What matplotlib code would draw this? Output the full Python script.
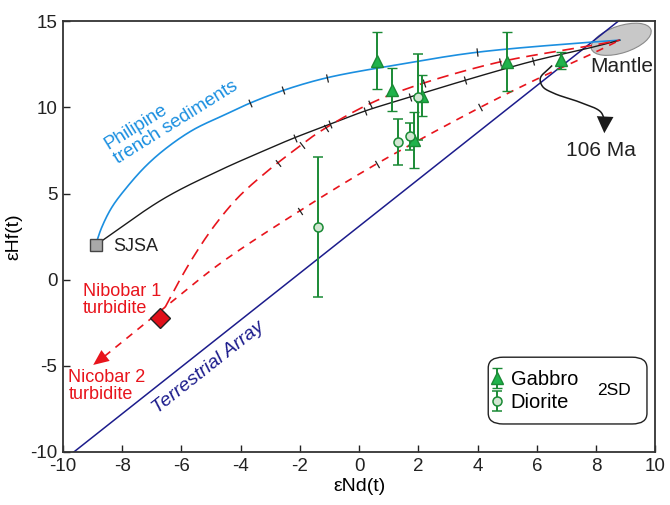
import numpy as np
import matplotlib
matplotlib.use("Agg")
import matplotlib.pyplot as plt
from matplotlib.patches import Ellipse, FancyBboxPatch
from matplotlib import transforms

plt.rcParams['font.family'] = ['Liberation Sans', 'DejaVu Sans']
plt.rcParams['axes.unicode_minus'] = False

# ---- data ----
# mixing curves (eNd, eHf) from end-member to mantle
blue_x = [-8.9, -8.7, -8.35, -7.85, -7.2, -6.5, -5.6, -4.5, -3.68, -2.57, -1.08, 1.39, 3.99, 7.8, 8.8]
blue_y = [2.0, 3.0, 4.2, 5.35, 6.6, 7.65, 8.7, 9.6, 10.25, 10.98, 11.72, 12.5, 13.2, 13.78, 13.9]
black_x = [-8.9, -6.6, -4.7, -3.34, -2.16, -0.98, 0.2, 1.72, 3.58, 5.88, 7.9, 8.8]
black_y = [2.0, 4.7, 6.35, 7.39, 8.25, 9.02, 9.79, 10.6, 11.57, 12.69, 13.5, 13.9]
red1_x = [-6.55, -6.1, -5.55, -4.9, -4.1, -3.2, -2.2, -1.32, 0.37, 1.95, 4.76, 7.9, 8.8]
red1_y = [-1.6, -0.15, 1.45, 3.1, 4.75, 6.15, 7.5, 8.6, 10.22, 11.28, 12.64, 13.6, 13.9]
red2_x = [-8.6, -6.55, -4.7, -2.0, 0.6, 4.09, 6.1, 7.85, 8.8]
red2_y = [-4.45, -1.6, 0.93, 4.0, 6.73, 10.0, 11.72, 13.1, 13.9]

# tick marks on the curves (eNd positions)
blue_ticks = [-3.68, -2.57, -1.08, 3.97]
black_ticks = [-2.16, -0.98, 0.2, 1.72, 3.58, 5.88]
red1_ticks = [-2.73, -1.94, -1.1, 0.37, 2.17, 4.76]
red2_ticks = [-1.99, 0.6, 4.09]

# samples with 2SD error bars
gabbro_x = [0.6, 1.1, 1.86, 2.14, 5.01, 6.81]
gabbro_y = [12.7, 11.03, 8.1, 10.67, 12.65, 12.74]
gabbro_err = [1.65, 1.23, 1.63, 1.2, 1.7, 0.5]
diorite_x = [-1.4, 1.31, 1.71, 2.0]
diorite_y = [3.05, 8.01, 8.32, 10.62]
diorite_err = [4.05, 1.33, 0.8, 2.5]

sjsa = (-8.9, 2.0)
nicobar1 = (-6.72, -2.2)
nicobar2_tip = (-8.98, -4.95)
mantle = (8.85, 13.95)

# terrestrial array eHf = 1.36 eNd + 3.1
ta_slope, ta_icpt = 1.36, 3.1

# 106 Ma evolution arrow
age_x = [6.5, 6.12, 6.2, 6.6, 7.45, 8.15, 8.3]
age_y = [12.4, 11.7, 11.2, 10.8, 10.3, 9.75, 9.2]
age_tip = (8.28, 8.5)

RED = '#e8141c'
BLUE = '#1b8fe0'
NAVY = '#1c1c8c'
GREEN = '#1a8a35'

PX_X, PX_Y = 29.6, 17.22   # rough pixels per unit, only to keep the spline even


def smooth(xs, ys, n=30):
    # centripetal Catmull-Rom through the read points, for drawing only
    P = np.column_stack([np.asarray(xs) * PX_X, np.asarray(ys) * PX_Y])
    P = np.vstack([2 * P[0] - P[1], P, 2 * P[-1] - P[-2]])
    out = []
    for i in range(1, len(P) - 2):
        p0, p1, p2, p3 = P[i - 1], P[i], P[i + 1], P[i + 2]
        t0 = 0.0
        t1 = t0 + np.linalg.norm(p1 - p0) ** 0.5
        t2 = t1 + np.linalg.norm(p2 - p1) ** 0.5
        t3 = t2 + np.linalg.norm(p3 - p2) ** 0.5
        t = np.linspace(t1, t2, n, endpoint=False)[:, None]
        a1 = (t1 - t) / (t1 - t0) * p0 + (t - t0) / (t1 - t0) * p1
        a2 = (t2 - t) / (t2 - t1) * p1 + (t - t1) / (t2 - t1) * p2
        a3 = (t3 - t) / (t3 - t2) * p2 + (t - t2) / (t3 - t2) * p3
        b1 = (t2 - t) / (t2 - t0) * a1 + (t - t0) / (t2 - t0) * a2
        b2 = (t3 - t) / (t3 - t1) * a2 + (t - t1) / (t3 - t1) * a3
        out.append((t2 - t) / (t2 - t1) * b1 + (t - t1) / (t2 - t1) * b2)
    out.append(P[-2][None, :])
    c = np.vstack(out)
    return c[:, 0] / PX_X, c[:, 1] / PX_Y


fig = plt.figure(figsize=(6.7, 5.05), dpi=100)
ax = fig.add_axes([0.094, 0.105, 0.884, 0.853])
ax.set_xlim(-10, 10)
ax.set_ylim(-10, 15)


def add_ticks(cx, cy, tick_x):
    pts = ax.transData.transform(np.column_stack([cx, cy]))
    for tx in tick_x:
        i = int(np.argmin(np.abs(cx - tx)))
        j0, j1 = max(i - 2, 0), min(i + 2, len(cx) - 1)
        d = pts[j1] - pts[j0]
        ang = np.degrees(np.arctan2(d[1], d[0]))
        ax.plot(cx[i], cy[i], marker=(2, 0, ang), ms=6, mec='#222222', mew=0.9,
                ls='none', zorder=4)


# terrestrial array
ta_x = np.array([-10, 10])
ax.plot(ta_x, ta_slope * ta_x + ta_icpt, color=NAVY, lw=1.1, zorder=2)

# mantle field
ell = Ellipse((0, 0), 0.625, 0.27, angle=18, facecolor='#c8c8c8', edgecolor='#8a8a8a',
              lw=0.8, zorder=1,
              transform=fig.dpi_scale_trans + transforms.ScaledTranslation(mantle[0], mantle[1], ax.transData))
ax.add_patch(ell)

bx, by = smooth(blue_x, blue_y)
ax.plot(bx, by, color=BLUE, lw=1.2, zorder=3)
add_ticks(bx, by, blue_ticks)

kx, ky = smooth(black_x, black_y)
ax.plot(kx, ky, color='#1a1a1a', lw=1.0, zorder=3)
add_ticks(kx, ky, black_ticks)

r1x, r1y = smooth(red1_x, red1_y)
ax.plot(r1x, r1y, color=RED, lw=1.2, dashes=(7, 4), zorder=3)
add_ticks(r1x, r1y, red1_ticks)

r2x, r2y = smooth(red2_x, red2_y)
ax.plot(r2x, r2y, color=RED, lw=1.2, dashes=(4.5, 4), zorder=3)
add_ticks(r2x, r2y, red2_ticks)
ax.annotate('', xy=nicobar2_tip, xytext=(red2_x[0], red2_y[0]),
            arrowprops=dict(arrowstyle='-|>,head_length=0.8,head_width=0.35', color=RED, lw=0,
                            shrinkA=0, shrinkB=0, mutation_scale=14))

# end members
ax.plot(*sjsa, marker='s', ms=9, mfc='#a9a9a9', mec='#444444', mew=1.0, zorder=5)
ax.plot(*nicobar1, marker='D', ms=10.5, mfc='#e0101a', mec='#222222', mew=1.0, zorder=5)

# 106 Ma arrow
ax_, ay_ = smooth(age_x, age_y)
ax.plot(ax_, ay_, color='#1a1a1a', lw=1.1, zorder=3)
ax.annotate('', xy=age_tip, xytext=(age_x[-1], age_y[-1]),
            arrowprops=dict(arrowstyle='-|>,head_length=0.8,head_width=0.4', color='#1a1a1a', lw=0,
                            shrinkA=0, shrinkB=0, mutation_scale=15))

# samples
gab = ax.errorbar(gabbro_x, gabbro_y, yerr=gabbro_err, fmt='^', ms=8, mfc='#1fb34b', mec=GREEN,
                  mew=1.0, ecolor=GREEN, elinewidth=1.4, capsize=3.5, capthick=1.4, zorder=6)
dio = ax.errorbar(diorite_x, diorite_y, yerr=diorite_err, fmt='o', ms=6.5, mfc='#d2e6d2', mec=GREEN,
                  mew=1.1, ecolor=GREEN, elinewidth=1.4, capsize=3.5, capthick=1.4, zorder=6)

# labels
ax.text(-6.35, 9.55, 'Philipine\ntrench sediments', color=BLUE, fontsize=13.5, rotation=32,
        ha='center', va='center', multialignment='left', linespacing=1.0)
ax.text(-8.32, 1.95, 'SJSA', fontsize=13, color='#222222', va='center', ha='left')
ax.text(-9.34, -1.2, 'Nibobar 1\nturbidite', fontsize=13, color=RED, va='center', ha='left',
        linespacing=1.0)
ax.text(-9.82, -6.2, 'Nicobar 2\nturbidite', fontsize=13, color=RED, va='center', ha='left',
        linespacing=1.0)
ax.text(-5.1, -5.1, 'Terrestrial Array', fontsize=14, color=NAVY, style='italic', rotation=38.5,
        ha='center', va='center')
ax.text(8.87, 12.39, 'Mantle', fontsize=15, color='#222222', ha='center', va='center')
ax.text(8.17, 7.51, '106 Ma', fontsize=15, color='#222222', ha='center', va='center')

# legend
box = FancyBboxPatch((0.718, 0.065), 0.268, 0.155, boxstyle='round,pad=0,rounding_size=0.025',
                     transform=ax.transAxes, facecolor='white', edgecolor='#222222', lw=1.0, zorder=7)
ax.add_patch(box)
leg = ax.legend([gab, dio], ['Gabbro', 'Diorite'], loc='center left', bbox_to_anchor=(0.722, 0.142),
                frameon=False, fontsize=14.5, handlelength=0.6, handletextpad=0.4, labelspacing=0.2,
                borderaxespad=0, borderpad=0)
leg.set_zorder(8)
ax.text(0.93, 0.142, '2SD', transform=ax.transAxes, fontsize=12.5, ha='center', va='center', zorder=8)

ax.set_xticks(np.arange(-10, 11, 2))
ax.set_yticks(np.arange(-10, 16, 5))
ax.tick_params(direction='in', length=5, width=1.0, labelsize=13.5, colors='#222222', pad=4)
for s in ax.spines.values():
    s.set_color('#333333')
    s.set_linewidth(1.3)
ax.set_xlabel('εNd(t)', fontsize=14)
ax.set_ylabel('εHf(t)', fontsize=14)
ax.xaxis.set_label_coords(0.5, -0.06)
ax.yaxis.set_label_coords(-0.068, 0.5)

fig.savefig('out.png', dpi=100)
